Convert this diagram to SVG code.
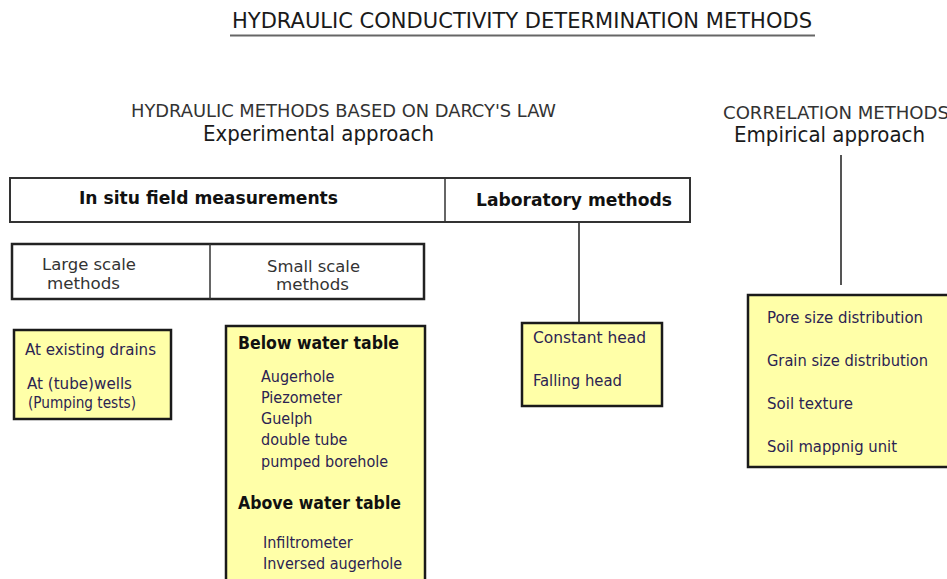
<svg xmlns="http://www.w3.org/2000/svg" width="947" height="579" viewBox="0 0 947 579">
<style>
text{font-family:"DejaVu Sans Condensed","DejaVu Sans",sans-serif;}
.hd{fill:#1a1a1a;}
.wbox{fill:#ffffff;stroke:#333;stroke-width:2;}
.ybox{fill:#ffffa8;stroke:#1a1a1a;stroke-width:2.5;}
.yt{fill:#2b2352;font-size:16px;}
.bt{fill:#111;font-size:17px;font-weight:bold;}
.st{fill:#333;font-size:16px;}
.ln{stroke:#555;stroke-width:2;fill:none;}
</style>
<rect width="947" height="579" fill="#fff"/>
<g id="title">
<text x="232" y="28" class="hd" font-size="22" textLength="580" lengthAdjust="spacingAndGlyphs">HYDRAULIC CONDUCTIVITY DETERMINATION METHODS</text>
<line x1="230" y1="35.5" x2="815" y2="35.5" stroke="#666" stroke-width="2"/>
</g>
<g id="hydraulic-heading">
<text x="131" y="117" fill="#333" font-size="17" textLength="425" lengthAdjust="spacingAndGlyphs">HYDRAULIC METHODS BASED ON DARCY'S LAW</text>
<text x="203" y="141" class="hd" font-size="21" textLength="231" lengthAdjust="spacingAndGlyphs">Experimental approach</text>
</g>
<g id="correlation-heading">
<text x="723" y="119" fill="#333" font-size="17" textLength="226" lengthAdjust="spacingAndGlyphs">CORRELATION METHODS</text>
<text x="734" y="142" class="hd" font-size="21" textLength="191" lengthAdjust="spacingAndGlyphs">Empirical approach</text>
</g>
<g id="connectors">
<line class="ln" x1="841" y1="155" x2="841" y2="285"/>
<line class="ln" x1="579" y1="222" x2="579" y2="323"/>
</g>
<g id="field-lab-bar">
<rect class="wbox" x="10" y="178" width="680" height="44"/>
<line x1="445" y1="178" x2="445" y2="222" stroke="#333" stroke-width="1.5"/>
<text x="79" y="204" class="bt" textLength="259" lengthAdjust="spacingAndGlyphs">In situ field measurements</text>
<text x="476" y="206" class="bt" textLength="196" lengthAdjust="spacingAndGlyphs">Laboratory methods</text>
</g>
<g id="scale-bar">
<rect x="12" y="244" width="412" height="55" fill="#fff" stroke="#222" stroke-width="2.5"/>
<line x1="210" y1="244" x2="210" y2="299" stroke="#333" stroke-width="1.5"/>
<text x="42" y="270" class="st" textLength="94" lengthAdjust="spacingAndGlyphs">Large scale</text>
<text x="47" y="289" class="st" textLength="73" lengthAdjust="spacingAndGlyphs">methods</text>
<text x="267" y="272" class="st" textLength="93" lengthAdjust="spacingAndGlyphs">Small scale</text>
<text x="276" y="290" class="st" textLength="73" lengthAdjust="spacingAndGlyphs">methods</text>
</g>
<g id="large-scale-box">
<rect class="ybox" x="14" y="330" width="157" height="89"/>
<text x="25" y="355" class="yt" textLength="131" lengthAdjust="spacingAndGlyphs">At existing drains</text>
<text x="27" y="389" class="yt" textLength="105" lengthAdjust="spacingAndGlyphs">At (tube)wells</text>
<text x="28" y="408" class="yt" font-size="14" textLength="108" lengthAdjust="spacingAndGlyphs">(Pumping tests)</text>
</g>
<g id="small-scale-box">
<rect class="ybox" x="226" y="326" width="199" height="260"/>
<text x="238" y="349" class="bt" textLength="161" lengthAdjust="spacingAndGlyphs">Below water table</text>
<text x="261" y="382" class="yt">Augerhole</text>
<text x="261" y="403" class="yt">Piezometer</text>
<text x="261" y="424" class="yt">Guelph</text>
<text x="261" y="445" class="yt">double tube</text>
<text x="261" y="467" class="yt">pumped borehole</text>
<text x="238" y="509" class="bt" textLength="163" lengthAdjust="spacingAndGlyphs">Above water table</text>
<text x="263" y="548" class="yt">Infiltrometer</text>
<text x="263" y="569" class="yt">Inversed augerhole</text>
</g>
<g id="lab-box">
<rect class="ybox" x="522" y="323" width="140" height="83"/>
<text x="533" y="343" class="yt" textLength="113" lengthAdjust="spacingAndGlyphs">Constant head</text>
<text x="533" y="386" class="yt" textLength="89" lengthAdjust="spacingAndGlyphs">Falling head</text>
</g>
<g id="correlation-box">
<rect class="ybox" x="748" y="295" width="210" height="172"/>
<text x="767" y="323" class="yt" textLength="156" lengthAdjust="spacingAndGlyphs">Pore size distribution</text>
<text x="767" y="366" class="yt" textLength="161" lengthAdjust="spacingAndGlyphs">Grain size distribution</text>
<text x="767" y="409" class="yt" textLength="86" lengthAdjust="spacingAndGlyphs">Soil texture</text>
<text x="767" y="452" class="yt" textLength="130" lengthAdjust="spacingAndGlyphs">Soil mappnig unit</text>
</g>
</svg>
